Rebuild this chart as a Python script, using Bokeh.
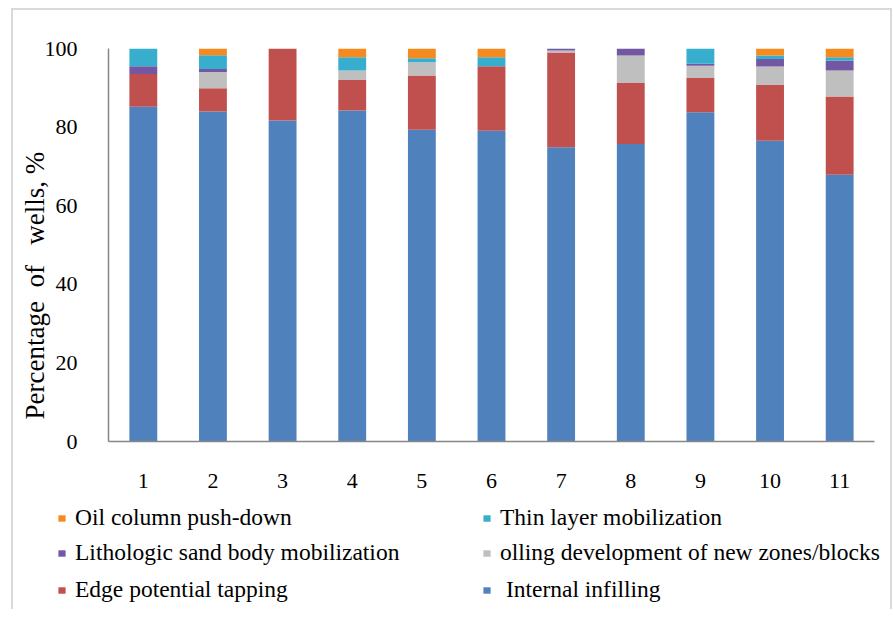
from bokeh.plotting import figure
from bokeh.layouts import column
from bokeh.models import ColumnDataSource, Legend, LegendItem, Title, FixedTicker
from bokeh.embed import file_html
from bokeh.resources import INLINE

wells = [1, 2, 3, 4, 5, 6, 7, 8, 9, 10, 11]
tick_labels = {w: str(w) for w in wells}

internal_infilling = [85.2, 84.0, 81.7, 84.2, 79.3, 79.1, 74.9, 75.7, 83.8, 76.5, 67.9]
edge_tapping = [8.3, 5.9, 18.3, 7.8, 13.8, 16.4, 24.1, 15.5, 8.7, 14.2, 19.9]
rolling_dev = [0.0, 4.1, 0.0, 2.4, 3.4, 0.0, 0.5, 7.0, 3.1, 4.7, 6.6]
litho_sand = [2.0, 0.8, 0.0, 0.0, 0.0, 0.0, 0.5, 1.8, 0.5, 1.9, 2.5]
thin_layer = [4.5, 3.5, 0.0, 3.4, 1.0, 2.3, 0.0, 0.0, 3.9, 0.9, 0.9]
oil_push = [0.0, 1.7, 0.0, 2.2, 2.5, 2.2, 0.0, 0.0, 0.0, 1.8, 2.2]

series_keys = ["internal", "edge", "rolling", "litho", "thin", "oil"]
series_names = [" Internal infilling", "Edge potential tapping",
                "olling development of new zones/blocks",
                "Lithologic sand body mobilization", "Thin layer mobilization",
                "Oil column push-down"]
colors = ["#4F81BD", "#C0504D", "#BFBFBF", "#7457A3", "#38AECF", "#F58A1F"]

source = ColumnDataSource(dict(
    x=wells, internal=internal_infilling, edge=edge_tapping, rolling=rolling_dev,
    litho=litho_sand, thin=thin_layer, oil=oil_push))

FONT = "Liberation Serif"

# ---- main chart ----
p = figure(width=877, height=488, x_range=(0.5, 11.5), y_range=(0, 100),
           output_backend="svg", toolbar_location=None,
           min_border_left=95, min_border_right=16, min_border_top=38,
           min_border_bottom=57)
p.frame_align = False

p.vbar_stack(series_keys, x="x", width=0.4, color=colors,
             line_color=None, source=source)

p.xgrid.visible = False
p.ygrid.visible = False
p.outline_line_color = None

for ax in (p.xaxis[0], p.yaxis[0]):
    ax.axis_line_color = "#868686"
    ax.axis_line_width = 1.5
    ax.major_tick_line_color = None
    ax.minor_tick_line_color = None
    ax.major_label_text_font = FONT
    ax.major_label_text_font_size = "22px"
    ax.major_label_text_color = "black"

p.xaxis[0].ticker = FixedTicker(ticks=wells)
p.xaxis[0].major_label_overrides = tick_labels
p.xaxis[0].major_label_standoff = 26
p.yaxis[0].ticker = FixedTicker(ticks=[0, 20, 40, 60, 80, 100])
p.yaxis[0].major_label_standoff = 25

ylab = Title(text="Percentage\u00a0\u00a0of\u00a0\u00a0\u00a0wells, %", align="left", offset=22,
             text_font=FONT, text_font_size="27px", text_font_style="normal",
             text_color="black", standoff=-16)
p.add_layout(ylab, "left")

# ---- legend panel (legend swatches reuse the chart's stacked series) ----
lp = figure(width=877, height=111, x_range=(-3, -2), y_range=(0, 1),
            output_backend="svg", toolbar_location=None,
            x_axis_location=None, y_axis_location=None,
            min_border=0)
lp.frame_align = False
lp.outline_line_color = None
lp.grid.visible = False
swatches = lp.vbar_stack(series_keys, x="x", width=0.4, color=colors,
                         line_color=None, source=source)

rows = [(5, 4), (3, 2), (1, 0)]
offsets = [78, 43, 6]
for (a, b), vy in zip(rows, offsets):
    items = [LegendItem(label=series_names[a], renderers=[swatches[a]]),
             LegendItem(label=series_names[b], renderers=[swatches[b]])]
    lg = Legend(items=items, orientation="horizontal", location=(44, vy),
                glyph_width=9, glyph_height=8, label_standoff=9,
                label_width=407, spacing=0, padding=0, margin=0,
                border_line_alpha=0, background_fill_alpha=0,
                label_text_font=FONT, label_text_font_size="23.5px",
                label_text_color="black")
    lp.add_layout(lg)

border = "2px solid #d9d9d9"
layout = column(p, lp, spacing=0,
                styles={"margin-left": "11px", "margin-top": "8px",
                        "border-left": border, "border-top": border,
                        "border-right": border})
open("out.html", "w").write(file_html(layout, INLINE))
